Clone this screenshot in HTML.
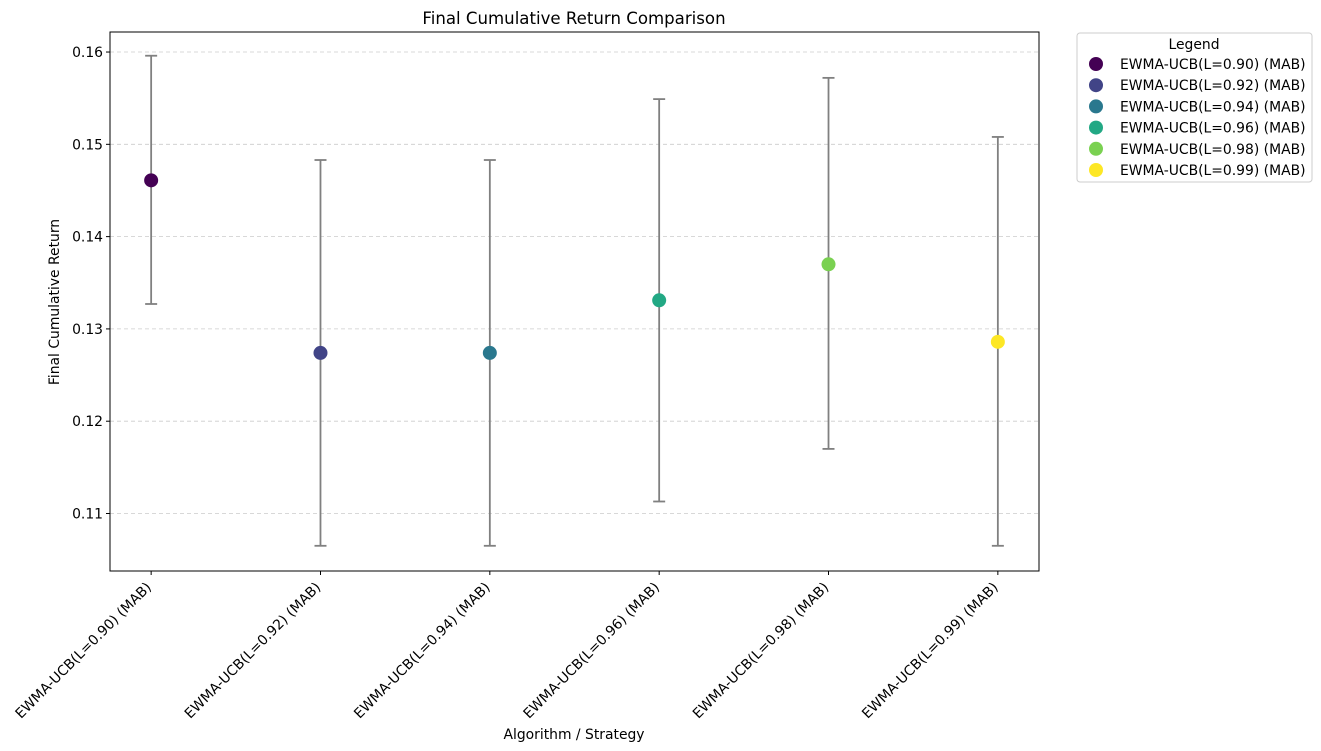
<!DOCTYPE html>
<html><head><meta charset="utf-8"><style>
body{margin:0;background:#fff;}
svg{display:block;font-family:"DejaVu Sans","Liberation Sans",sans-serif;}
</style></head><body>
<svg id="chart" width="1321" height="751" xmlns="http://www.w3.org/2000/svg">
<rect width="1321" height="751" fill="#fff"/>
<text x="574" y="24" font-size="16.6" text-anchor="middle" fill="#000">Final Cumulative Return Comparison</text>
<g id="grid"></g>
<g id="yticks"></g>
<g id="xticks"></g>
<g id="marks"></g>
<rect x="110" y="32" width="929" height="539" fill="none" stroke="#000" stroke-width="1"/>
<text transform="translate(59,302) rotate(-90)" font-size="13.9" text-anchor="middle">Final Cumulative Return</text>
<text x="574" y="739" font-size="13.9" text-anchor="middle">Algorithm / Strategy</text>
<g id="legend">
<rect x="1077" y="33" width="235" height="149" rx="3" fill="#fff" stroke="#ccc"/>
<text x="1194" y="49" font-size="13.9" text-anchor="middle">Legend</text>
</g>
</svg>
<script>
const categories=["EWMA-UCB(L=0.90) (MAB)","EWMA-UCB(L=0.92) (MAB)","EWMA-UCB(L=0.94) (MAB)","EWMA-UCB(L=0.96) (MAB)","EWMA-UCB(L=0.98) (MAB)","EWMA-UCB(L=0.99) (MAB)"];
const means=[0.1461,0.1274,0.1274,0.1331,0.1370,0.1286];
const lowers=[0.1327,0.1065,0.1065,0.1113,0.1170,0.1065];
const uppers=[0.1596,0.1483,0.1483,0.1549,0.1572,0.1508];
const colors=["#440154","#414487","#2a788e","#22a884","#7ad151","#fde725"];
const yTicks=[0.11,0.12,0.13,0.14,0.15,0.16];
const yTickLabels=["0.11","0.12","0.13","0.14","0.15","0.16"];

const NS="http://www.w3.org/2000/svg";
const L=110,R=1039,T=32,B=571;
const yMin=0.10377,yMax=0.16217,xMin=-0.243,xMax=5.243;
function ys(v){return B-(v-yMin)/(yMax-yMin)*(B-T);}
function xs(i){return L+(i-xMin)/(xMax-xMin)*(R-L);}
function mk(tag,attrs,parent){const e=document.createElementNS(NS,tag);for(const k in attrs)e.setAttribute(k,attrs[k]);parent.appendChild(e);return e;}
const grid=document.getElementById('grid'),yt=document.getElementById('yticks'),xt=document.getElementById('xticks'),marks=document.getElementById('marks'),leg=document.getElementById('legend');
yTicks.forEach((v,i)=>{
 const y=ys(v);
 const g=mk('line',{x1:L,x2:R,y1:y,y2:y,stroke:'#ccc','stroke-dasharray':'4,3','stroke-width':0.8},grid);
 
 
 const t=mk('line',{x1:L-4,x2:L,y1:y,y2:y,stroke:'#000'},yt);
 
 
 const tx=mk('text',{x:L-7,y:y+5,'font-size':13.9,'text-anchor':'end'},yt);
 tx.textContent=yTickLabels[i];
 
 
});
categories.forEach((c,i)=>{
 const x=xs(i);
 const t=mk('line',{x1:x,x2:x,y1:B,y2:B+4,stroke:'#000'},xt);
 
 
 const tx=mk('text',{transform:`translate(${x+1},${588}) rotate(-45)`,'font-size':13.9,'text-anchor':'end'},xt);
 tx.textContent=c;
 
 
 const yl=ys(lowers[i]),yu=ys(uppers[i]);
 const eb=mk('g',{stroke:'#808080','stroke-width':1.8},marks);
 
 
 mk('line',{x1:x,x2:x,y1:yu,y2:yl},eb);
 mk('line',{x1:x-6,x2:x+6,y1:yu,y2:yu},eb);
 mk('line',{x1:x-6,x2:x+6,y1:yl,y2:yl},eb);
 const p=mk('circle',{cx:x,cy:ys(means[i]),r:7,fill:colors[i]},marks);
 
 
 const ly=64+i*21.2;
 const lm=mk('circle',{cx:1096,cy:ly,r:7,fill:colors[i]},leg);
 
 
 const lt=mk('text',{x:1120,y:ly+5,'font-size':13.9},leg);
 lt.textContent=c;
 
 
});
</script>
</body></html>
